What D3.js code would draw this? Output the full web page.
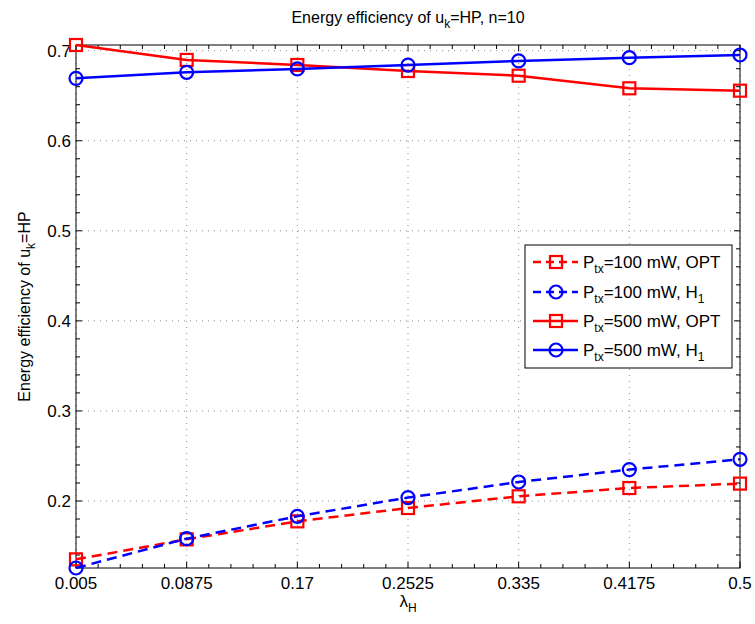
<!DOCTYPE html>
<html>
<head>
<meta charset="utf-8">
<script src="https://cdn.jsdelivr.net/npm/d3@7"></script>
<style>
  body { margin: 0; background: #fff; }
  svg { display: block; font-family: "Liberation Sans", Arial, Helvetica, sans-serif; }
</style>
</head>
<body>
<svg id="chart" width="755" height="624"></svg>
<script>
// ---- data ----
const lambdaValues = [0.005, 0.0875, 0.17, 0.2525, 0.335, 0.4175, 0.5];
const xTickLabels = ["0.005", "0.0875", "0.17", "0.2525", "0.335", "0.4175", "0.5"];
const yTickValues = [0.2, 0.3, 0.4, 0.5, 0.6, 0.7];
const opt100 = [0.1352, 0.1574, 0.1774, 0.1922, 0.2052, 0.2144, 0.2193];
const h1_100 = [0.1256, 0.1582, 0.1830, 0.2038, 0.2211, 0.2349, 0.2463];
const opt500 = [0.7063, 0.6897, 0.6841, 0.6774, 0.6722, 0.6582, 0.6556];
const h1_500 = [0.6693, 0.6760, 0.6797, 0.6840, 0.6886, 0.6922, 0.6952];
const seriesNames = ["100 mW, OPT", "100 mW, H", "500 mW, OPT", "500 mW, H"];

const series = [
  { vals: opt100, name: seriesNames[0], sub: "", color: "#ff0000", dash: "10,6", marker: "square" },
  { vals: h1_100, name: seriesNames[1], sub: "1", color: "#0000ff", dash: "10,6", marker: "circle" },
  { vals: opt500, name: seriesNames[2], sub: "", color: "#ff0000", dash: null, marker: "square" },
  { vals: h1_500, name: seriesNames[3], sub: "1", color: "#0000ff", dash: null, marker: "circle" }
];

const svg = d3.select("#chart");
const L = 76, R = 740, T = 45, B = 568;
const FS = 17;

const allVals = [].concat(opt100, h1_100, opt500, h1_500);
const x = d3.scaleLinear().domain([lambdaValues[0], lambdaValues[lambdaValues.length - 1]]).range([L, R]);
const y = d3.scaleLinear().domain(d3.extent(allVals)).range([B, T]);

// grid
const grid = svg.append("g").attr("stroke", "#8c8c8c").attr("stroke-width", 1).attr("stroke-dasharray", "1,5");
lambdaValues.forEach(v => {
  grid.append("line").attr("x1", x(v)).attr("x2", x(v)).attr("y1", T).attr("y2", B);
});
yTickValues.forEach(v => {
  grid.append("line").attr("x1", L).attr("x2", R).attr("y1", y(v)).attr("y2", y(v));
});

// ticks (inward, all four sides)
const tickG = svg.append("g").attr("stroke", "#000").attr("stroke-width", 1);
const tl = 6, mtl = 4;
for (let i = 0; i < lambdaValues.length; i++) {
  const v = lambdaValues[i];
  tickG.append("line").attr("x1", x(v)).attr("x2", x(v)).attr("y1", B).attr("y2", B - tl);
  tickG.append("line").attr("x1", x(v)).attr("x2", x(v)).attr("y1", T).attr("y2", T + tl);
  if (i < lambdaValues.length - 1) {
    const step = (lambdaValues[i + 1] - v) / 5;
    for (let k = 1; k < 5; k++) {
      const mv = v + k * step;
      tickG.append("line").attr("x1", x(mv)).attr("x2", x(mv)).attr("y1", B).attr("y2", B - mtl);
      tickG.append("line").attr("x1", x(mv)).attr("x2", x(mv)).attr("y1", T).attr("y2", T + mtl);
    }
  }
}
const yd = y.domain();
for (let m = Math.ceil(yd[0] / 0.02); m * 0.02 <= yd[1] + 1e-9; m++) {
  const v = m * 0.02;
  const major = Math.abs(v * 10 - Math.round(v * 10)) < 1e-6;
  const len = major ? tl : mtl;
  tickG.append("line").attr("x1", L).attr("x2", L + len).attr("y1", y(v)).attr("y2", y(v));
  tickG.append("line").attr("x1", R).attr("x2", R - len).attr("y1", y(v)).attr("y2", y(v));
}

// box
svg.append("rect").attr("x", L).attr("y", T).attr("width", R - L).attr("height", B - T)
  .attr("fill", "none").attr("stroke", "#000").attr("stroke-width", 1);

// tick labels
svg.append("g").selectAll("text").data(lambdaValues).join("text")
  .attr("x", d => x(d)).attr("y", 589).attr("text-anchor", "middle")
  .attr("font-size", FS).text((d, i) => xTickLabels[i]);
svg.append("g").selectAll("text").data(yTickValues).join("text")
  .attr("x", L - 5).attr("y", d => y(d) + 6).attr("text-anchor", "end")
  .attr("font-size", FS).text(d => d.toFixed(1));

// series
const line = d3.line().x((d, i) => x(lambdaValues[i])).y(d => y(d));
function drawMarker(g, cx, cy, type, color) {
  if (type === "square") {
    g.append("rect").attr("x", cx - 6).attr("y", cy - 6).attr("width", 12).attr("height", 12)
      .attr("fill", "none").attr("stroke", color).attr("stroke-width", 2.2);
  } else {
    g.append("circle").attr("cx", cx).attr("cy", cy).attr("r", 6.5)
      .attr("fill", "none").attr("stroke", color).attr("stroke-width", 2.2);
  }
}
series.forEach(s => {
  const g = svg.append("g");
  g.append("path").attr("d", line(s.vals)).attr("fill", "none")
    .attr("stroke", s.color).attr("stroke-width", 2.5)
    .attr("stroke-dasharray", s.dash);
  s.vals.forEach((v, i) => drawMarker(g, x(lambdaValues[i]), y(v), s.marker, s.color));
});

// legend
const lg = svg.append("g");
lg.append("rect").attr("x", 525).attr("y", 245).attr("width", 207).attr("height", 123)
  .attr("fill", "#fff").attr("stroke", "#000").attr("stroke-width", 1);
const rowY = [262, 292, 321, 350];
series.forEach((s, i) => {
  const ry = rowY[i];
  lg.append("line").attr("x1", 533).attr("x2", 578).attr("y1", ry).attr("y2", ry)
    .attr("stroke", s.color).attr("stroke-width", 2.5).attr("stroke-dasharray", s.dash ? "8,5" : null);
  drawMarker(lg, 556, ry, s.marker, s.color);
  const t = lg.append("text").attr("x", 583).attr("y", ry + 6).attr("font-size", FS);
  t.append("tspan").text("P");
  t.append("tspan").attr("font-size", 12).attr("dy", 5).text("tx");
  t.append("tspan").attr("dy", -5).text("=" + s.name);
  if (s.sub) t.append("tspan").attr("font-size", 12).attr("dy", 5).text(s.sub);
});

// title
const title = svg.append("text").attr("x", (L + R) / 2).attr("y", 23).attr("text-anchor", "middle").attr("font-size", 16);
title.append("tspan").text("Energy efficiency of u");
title.append("tspan").attr("font-size", 12).attr("dy", 5).text("k");
title.append("tspan").attr("dy", -5).text("=HP, n=10");

// x label
const xl = svg.append("text").attr("x", (L + R) / 2).attr("y", 607).attr("text-anchor", "middle").attr("font-size", FS);
xl.append("tspan").text("λ");
xl.append("tspan").attr("font-size", 12).attr("dy", 5).text("H");

// y label
const yl = svg.append("text").attr("transform", `translate(30,${(T + B) / 2}) rotate(-90)`)
  .attr("text-anchor", "middle").attr("font-size", 16);
yl.append("tspan").text("Energy efficiency of u");
yl.append("tspan").attr("font-size", 12).attr("dy", 5).text("k");
yl.append("tspan").attr("dy", -5).text("=HP");
</script>
</body>
</html>
